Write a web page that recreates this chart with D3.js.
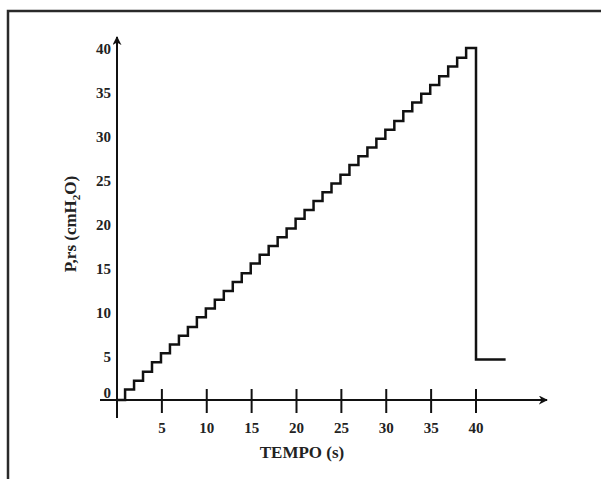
<!DOCTYPE html>
<html>
<head>
<meta charset="utf-8">
<script src="https://cdn.jsdelivr.net/npm/d3@7"></script>
<style>
  body { margin: 0; background: #fff; }
  svg { display: block; }
  text { font-family: "Liberation Serif", "Times New Roman", serif; font-weight: bold; fill: #222; }
</style>
</head>
<body>
<div id="chart"></div>
<script>
var width = 601;
var height = 479;

// staircase pressure ramp: rise instants (s) and the level reached (cmH2O)
var riseTimes = [0.9, 1.9, 2.9, 3.9, 4.9, 5.9, 6.9, 7.9, 8.9, 9.9,
                 10.9, 11.9, 12.9, 13.9, 14.9, 15.9, 16.9, 17.9, 18.9, 19.9,
                 20.9, 21.9, 22.9, 23.9, 24.9, 25.9, 26.9, 27.9, 28.9, 29.9,
                 30.9, 31.9, 32.9, 33.9, 34.9, 35.9, 36.9, 37.9, 38.9];
var levels = [1.2, 2.2, 3.2, 4.3, 5.3, 6.3, 7.3, 8.3, 9.4, 10.4,
              11.4, 12.4, 13.4, 14.4, 15.5, 16.5, 17.5, 18.5, 19.5, 20.6,
              21.6, 22.6, 23.6, 24.6, 25.6, 26.7, 27.7, 28.7, 29.7, 30.7,
              31.7, 32.8, 33.8, 34.8, 35.8, 36.8, 37.9, 38.9, 40];
var dropTime = 40;
var dropLevel = 4.6;
var endTime = 43.3;

var xTicks = [5, 10, 15, 20, 25, 30, 35, 40];
var yTicks = [0, 5, 10, 15, 20, 25, 30, 35, 40];

var x = d3.scaleLinear().domain([0, 40]).range([117, 476]);
var y = d3.scaleLinear().domain([0, 40]).range([400, 48]);

var svg = d3.select("#chart")
            .append("svg")
            .attr("width", width)
            .attr("height", height);

// frame (only top and left edges visible)
svg.append("rect")
   .attr("x", 8).attr("y", 11)
   .attr("width", 700).attr("height", 600)
   .style("fill", "none")
   .style("stroke", "#2a2a2a")
   .style("stroke-width", 2.5);

var defs = svg.append("defs");
defs.append("marker")
    .attr("id", "arrow")
    .attr("viewBox", "0 0 10 10")
    .attr("refX", 9).attr("refY", 5)
    .attr("markerWidth", 9).attr("markerHeight", 9)
    .attr("markerUnits", "userSpaceOnUse")
    .attr("orient", "auto")
    .append("path")
    .attr("d", "M0,0 L10,5 L0,10 L3,5 Z")
    .style("fill", "#111");

// axes
svg.append("line")
   .attr("x1", x(0) - 17).attr("x2", 547)
   .attr("y1", y(0)).attr("y2", y(0))
   .attr("marker-end", "url(#arrow)")
   .style("stroke", "#111").style("stroke-width", 2);

svg.append("line")
   .attr("x1", x(0)).attr("x2", x(0))
   .attr("y1", y(0) + 18).attr("y2", 37)
   .attr("marker-end", "url(#arrow)")
   .style("stroke", "#111").style("stroke-width", 2);

svg.selectAll(".xtick")
   .data(xTicks)
   .enter()
   .append("line")
   .attr("class", "xtick")
   .attr("x1", d => x(d)).attr("x2", d => x(d))
   .attr("y1", y(0) - 11).attr("y2", y(0) + 13)
   .style("stroke", "#111").style("stroke-width", 2);

svg.selectAll(".xlabel")
   .data(xTicks)
   .enter()
   .append("text")
   .attr("class", "xlabel")
   .attr("x", d => x(d))
   .attr("y", y(0) + 33)
   .attr("text-anchor", "middle")
   .style("font-size", "15px")
   .text(d => d);

svg.selectAll(".ylabel")
   .data(yTicks)
   .enter()
   .append("text")
   .attr("class", "ylabel")
   .attr("x", 111)
   .attr("y", d => y(d) + (d === 0 ? -2 : 6))
   .attr("text-anchor", "end")
   .style("font-size", "15px")
   .text(d => d);

// titles
svg.append("text")
   .attr("x", 302)
   .attr("y", 458)
   .attr("text-anchor", "middle")
   .style("font-size", "17px")
   .text("TEMPO (s)");

var yt = svg.append("text")
            .attr("transform", "translate(76,224) rotate(-90)")
            .attr("text-anchor", "middle")
            .style("font-size", "17px");
yt.append("tspan").text("P,rs (cmH");
yt.append("tspan").attr("dy", 4).style("font-size", "11px").text("2");
yt.append("tspan").attr("dy", -4).text("O)");

// staircase signal
var pts = [[0, 0]];
riseTimes.forEach(function(t, i) {
    pts.push([t, i === 0 ? 0 : levels[i - 1]]);
    pts.push([t, levels[i]]);
});
pts.push([dropTime, levels[levels.length - 1]]);
pts.push([dropTime, dropLevel]);
pts.push([endTime, dropLevel]);

var line = d3.line()
             .x(d => x(d[0]))
             .y(d => y(d[1]));

svg.append("path")
   .datum(pts)
   .attr("d", line)
   .style("fill", "none")
   .style("stroke", "#111")
   .style("stroke-width", 2.5)
   .style("stroke-linejoin", "miter");
</script>
</body>
</html>
